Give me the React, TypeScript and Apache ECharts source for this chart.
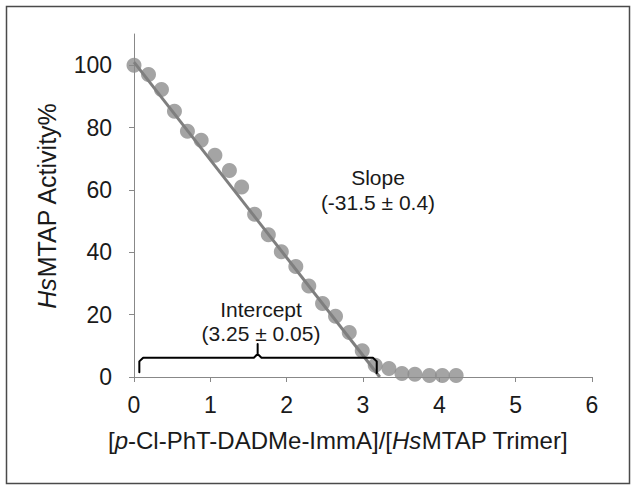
import React, { useEffect, useRef } from "react";
import * as echarts from "echarts";

// Measured data: x = [inhibitor]/[HsMTAP trimer], y = activity %
const ratioX = [
  0.0, 0.19, 0.36, 0.53, 0.7, 0.88, 1.06, 1.25, 1.41, 1.58, 1.76, 1.93, 2.12,
  2.29, 2.47, 2.64, 2.82, 2.99, 3.16, 3.34, 3.51, 3.68, 3.87, 4.04, 4.22,
];
const activityY = [
  100, 97.0, 92.2, 85.2, 78.8, 75.9, 71.1, 66.2, 60.9, 52.2, 45.6, 40.2, 35.4,
  29.2, 23.6, 19.5, 14.3, 8.4, 3.8, 2.7, 1.1, 0.9, 0.5, 0.5, 0.5,
];
// Linear fit line endpoints
const fitX = [0, 3.22];
const fitY = [101, 0];
// Intercept bracket (data coordinates)
const bracketX = [0.07, 0.07, 0.12, 1.57, 1.62, 1.62, 1.62, 1.67, 3.13, 3.18, 3.18];
const bracketY = [1.5, 5.0, 6.2, 6.2, 7.4, 10.6, 7.4, 6.2, 6.2, 5.0, 1.3];
const yTicks = [0, 20, 40, 60, 80, 100];
const xTicks = [0, 1, 2, 3, 4, 5, 6];

const FONT = "'Liberation Sans', Arial, sans-serif";

export default function App() {
  const ref = useRef<HTMLDivElement>(null);
  useEffect(() => {
    document.body.style.margin = "0";
    if (!ref.current) return;
    const chart = echarts.init(ref.current, null, { renderer: "svg" });
    const points = ratioX.map((x, i) => [x, activityY[i]]);
    const fit = fitX.map((x, i) => [x, fitY[i]]);
    const bracket = bracketX.map((x, i) => [x, bracketY[i]]);
    const annot = (text: string, x: number, y: number) => ({
      type: "text",
      x,
      y,
      style: { text, fontSize: 21, fill: "#1a1a1a", align: "center", verticalAlign: "middle", fontFamily: FONT },
    });
    chart.setOption({
      animation: false,
      backgroundColor: "#ffffff",
      textStyle: { fontFamily: FONT },
      grid: { left: 134, right: 44, top: 34, bottom: 114 },
      xAxis: {
        type: "value",
        min: 0,
        max: 6,
        interval: 1,
        splitLine: { show: false },
        axisLine: { lineStyle: { color: "#888888", width: 1 } },
        axisTick: { length: 5, lineStyle: { color: "#888888" } },
        axisLabel: {
          color: "#1a1a1a",
          fontSize: 23,
          margin: 16,
          fontFamily: FONT,
          customValues: xTicks,
        },
        name: "{n|[}{i|p}{n|-Cl-PhT-DADMe-ImmA]/[}{i|Hs}{n|MTAP Trimer]}",
        nameLocation: "middle",
        nameGap: 51,
        nameTextStyle: {
          padding: [0, 50, 0, 0],
          rich: {
            n: { fontSize: 24, color: "#1a1a1a", fontFamily: FONT },
            i: { fontSize: 24, color: "#1a1a1a", fontStyle: "italic", fontFamily: FONT },
          },
        },
      },
      yAxis: {
        type: "value",
        min: 0,
        max: 110,
        interval: 10,
        splitLine: { show: false },
        axisLine: { show: true, lineStyle: { color: "#888888", width: 1 } },
        axisTick: { show: true, length: 5, lineStyle: { color: "#888888" }, customValues: yTicks },
        axisLabel: {
          color: "#1a1a1a",
          fontSize: 23,
          margin: 22,
          fontFamily: FONT,
          customValues: yTicks,
        },
        name: "{i|Hs}{n|MTAP Activity%}",
        nameLocation: "middle",
        nameGap: 75,
        nameTextStyle: {
          rich: {
            n: { fontSize: 25, color: "#1a1a1a", fontFamily: FONT },
            i: { fontSize: 25, color: "#1a1a1a", fontStyle: "italic", fontFamily: FONT },
          },
        },
      },
      series: [
        {
          type: "scatter",
          data: points,
          symbol: "circle",
          symbolSize: 15,
          itemStyle: { color: "#8a8a8a", opacity: 0.78 },
          z: 2,
        },
        {
          type: "line",
          data: fit,
          showSymbol: false,
          lineStyle: { color: "#7f7f7f", width: 3 },
          z: 3,
        },
        {
          type: "line",
          data: bracket,
          showSymbol: false,
          lineStyle: { color: "#000000", width: 2, join: "round", cap: "round" },
          z: 4,
        },
      ],
      graphic: [
        {
          type: "rect",
          shape: { x: 6.5, y: 6.5, width: 623, height: 477 },
          style: { fill: "none", stroke: "#4a4a4a", lineWidth: 1.5 },
          silent: true,
        },
        annot("Slope", 378, 177),
        annot("(-31.5 ± 0.4)", 378, 202),
        annot("Intercept", 261, 309),
        annot("(3.25 ± 0.05)", 261, 333),
      ],
    });
    return () => chart.dispose();
  }, []);
  return <div ref={ref} style={{ width: 636, height: 491 }} />;
}
